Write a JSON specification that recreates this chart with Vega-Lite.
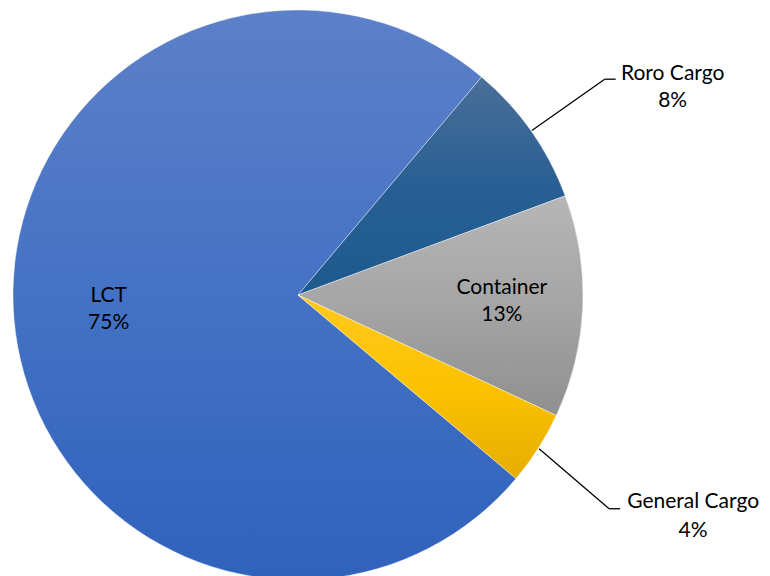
{
  "$schema": "https://vega.github.io/schema/vega-lite/v6.json",
  "width": 596,
  "height": 590,
  "autosize": {"type": "none"},
  "padding": {"left": 0, "top": 0, "right": 174, "bottom": 0},
  "background": "white",
  "config": {"view": {"stroke": null}, "text": {"font": "Lato"}},
  "data": {
    "values": [
      {"category": "Roro Cargo", "value": 8.2, "order": 1},
      {"category": "Container", "value": 12.6, "order": 2},
      {"category": "General Cargo", "value": 4.2, "order": 3},
      {"category": "LCT", "value": 75.0, "order": 4}
    ]
  },
  "transform": [
    {"joinaggregate": [{"op": "sum", "field": "value", "as": "total"}]},
    {"stack": "value", "groupby": [], "sort": [{"field": "order", "order": "ascending"}], "offset": "normalize", "as": ["v0", "v1"]},
    {"calculate": "0.7 + 2 * PI * (datum.v0 + datum.v1) / 2", "as": "a"},
    {"calculate": "286 * sin(datum.a)", "as": "sx"},
    {"calculate": "286 * cos(datum.a)", "as": "sy"},
    {"calculate": "375 * sin(datum.a)", "as": "ex"},
    {"calculate": "375 * cos(datum.a)", "as": "ey"},
    {"calculate": "datum.category == 'LCT' ? 190 : 204", "as": "lr"},
    {"calculate": "datum.lr * sin(datum.a)", "as": "lx"},
    {"calculate": "datum.lr * cos(datum.a)", "as": "ly"},
    {"calculate": "[datum.category, format(datum.value / datum.total, '.0%')]", "as": "label"}
  ],
  "layer": [
    {
      "transform": [{"filter": "datum.category == 'LCT'"}],
      "mark": {
        "type": "arc", "outerRadius": 285, "stroke": "white", "strokeWidth": 0.4,
        "fill": {"gradient": "linear", "x1": 0, "y1": 0, "x2": 0, "y2": 1,
          "stops": [
            {"offset": 0, "color": "#5C80C9"},
            {"offset": 0.5, "color": "#4472C4"},
            {"offset": 1, "color": "#3062BC"}
          ]}
      },
      "encoding": {
        "theta": {"field": "v0", "type": "quantitative", "scale": {"domain": [0, 1], "range": [0.7, 6.98319]}},
        "theta2": {"field": "v1"}
      }
    },
    {
      "transform": [{"filter": "datum.category == 'Roro Cargo'"}],
      "mark": {
        "type": "arc", "outerRadius": 285, "stroke": "white", "strokeWidth": 0.4,
        "fill": {"gradient": "linear", "x1": 0, "y1": 0, "x2": 0, "y2": 1,
          "stops": [
            {"offset": 0, "color": "#4A6F99"},
            {"offset": 0.5, "color": "#285F93"},
            {"offset": 1, "color": "#1D5A8E"}
          ]}
      },
      "encoding": {
        "theta": {"field": "v0", "type": "quantitative"},
        "theta2": {"field": "v1"}
      }
    },
    {
      "transform": [{"filter": "datum.category == 'Container'"}],
      "mark": {
        "type": "arc", "outerRadius": 285, "stroke": "white", "strokeWidth": 0.4,
        "fill": {"gradient": "linear", "x1": 0, "y1": 0, "x2": 0, "y2": 1,
          "stops": [
            {"offset": 0, "color": "#B6B6B6"},
            {"offset": 0.5, "color": "#A5A5A5"},
            {"offset": 1, "color": "#8F8F8F"}
          ]}
      },
      "encoding": {
        "theta": {"field": "v0", "type": "quantitative"},
        "theta2": {"field": "v1"}
      }
    },
    {
      "transform": [{"filter": "datum.category == 'General Cargo'"}],
      "mark": {
        "type": "arc", "outerRadius": 285, "stroke": "white", "strokeWidth": 0.4,
        "fill": {"gradient": "linear", "x1": 0, "y1": 0, "x2": 0, "y2": 1,
          "stops": [
            {"offset": 0, "color": "#FFC91F"},
            {"offset": 0.5, "color": "#FCC200"},
            {"offset": 1, "color": "#E6AD00"}
          ]}
      },
      "encoding": {
        "theta": {"field": "v0", "type": "quantitative"},
        "theta2": {"field": "v1"}
      }
    },
    {
      "transform": [{"filter": "datum.category == 'LCT' || datum.category == 'Container'"}],
      "mark": {"type": "text", "align": "center", "baseline": "middle", "fontSize": 21, "lineHeight": 27, "color": "#000000", "dy": -15},
      "encoding": {
        "x": {"field": "lx", "type": "quantitative", "scale": {"domain": [-298, 298], "nice": false, "zero": false}, "axis": null},
        "y": {"field": "ly", "type": "quantitative", "scale": {"domain": [-295, 295], "nice": false, "zero": false}, "axis": null},
        "text": {"field": "label"}
      }
    },
    {
      "transform": [{"filter": "datum.category == 'Roro Cargo'"}],
      "mark": {"type": "rule", "color": "#000000", "strokeWidth": 1.3},
      "encoding": {
        "x": {"field": "sx", "type": "quantitative"},
        "y": {"field": "sy", "type": "quantitative"},
        "x2": {"field": "ex"},
        "y2": {"field": "ey"}
      }
    },
    {
      "transform": [{"filter": "datum.category == 'Roro Cargo'"}],
      "mark": {"type": "rule", "color": "#000000", "strokeWidth": 1.3, "x2Offset": 11},
      "encoding": {
        "x": {"field": "ex", "type": "quantitative"},
        "y": {"field": "ey", "type": "quantitative"},
        "x2": {"field": "ex"},
        "y2": {"field": "ey"}
      }
    },
    {
      "transform": [{"filter": "datum.category == 'Roro Cargo'"}],
      "mark": {"type": "text", "align": "center", "baseline": "alphabetic", "fontSize": 21, "lineHeight": 27, "color": "#000000", "dx": 68, "dy": 1},
      "encoding": {
        "x": {"field": "ex", "type": "quantitative"},
        "y": {"field": "ey", "type": "quantitative"},
        "text": {"field": "label"}
      }
    },
    {
      "transform": [{"filter": "datum.category == 'General Cargo'"}],
      "mark": {"type": "rule", "color": "#000000", "strokeWidth": 1.3, "x2Offset": -5, "y2Offset": 12},
      "encoding": {
        "x": {"field": "sx", "type": "quantitative"},
        "y": {"field": "sy", "type": "quantitative"},
        "x2": {"field": "ex"},
        "y2": {"field": "ey"}
      }
    },
    {
      "transform": [{"filter": "datum.category == 'General Cargo'"}],
      "mark": {"type": "rule", "color": "#000000", "strokeWidth": 1.3, "xOffset": -5, "x2Offset": 6, "yOffset": 12, "y2Offset": 12},
      "encoding": {
        "x": {"field": "ex", "type": "quantitative"},
        "y": {"field": "ey", "type": "quantitative"},
        "x2": {"field": "ex"},
        "y2": {"field": "ey"}
      }
    },
    {
      "transform": [{"filter": "datum.category == 'General Cargo'"}],
      "mark": {"type": "text", "align": "center", "baseline": "alphabetic", "fontSize": 21, "lineHeight": 29, "color": "#000000", "dx": 79, "dy": 11},
      "encoding": {
        "x": {"field": "ex", "type": "quantitative"},
        "y": {"field": "ey", "type": "quantitative"},
        "text": {"field": "label"}
      }
    }
  ]
}
